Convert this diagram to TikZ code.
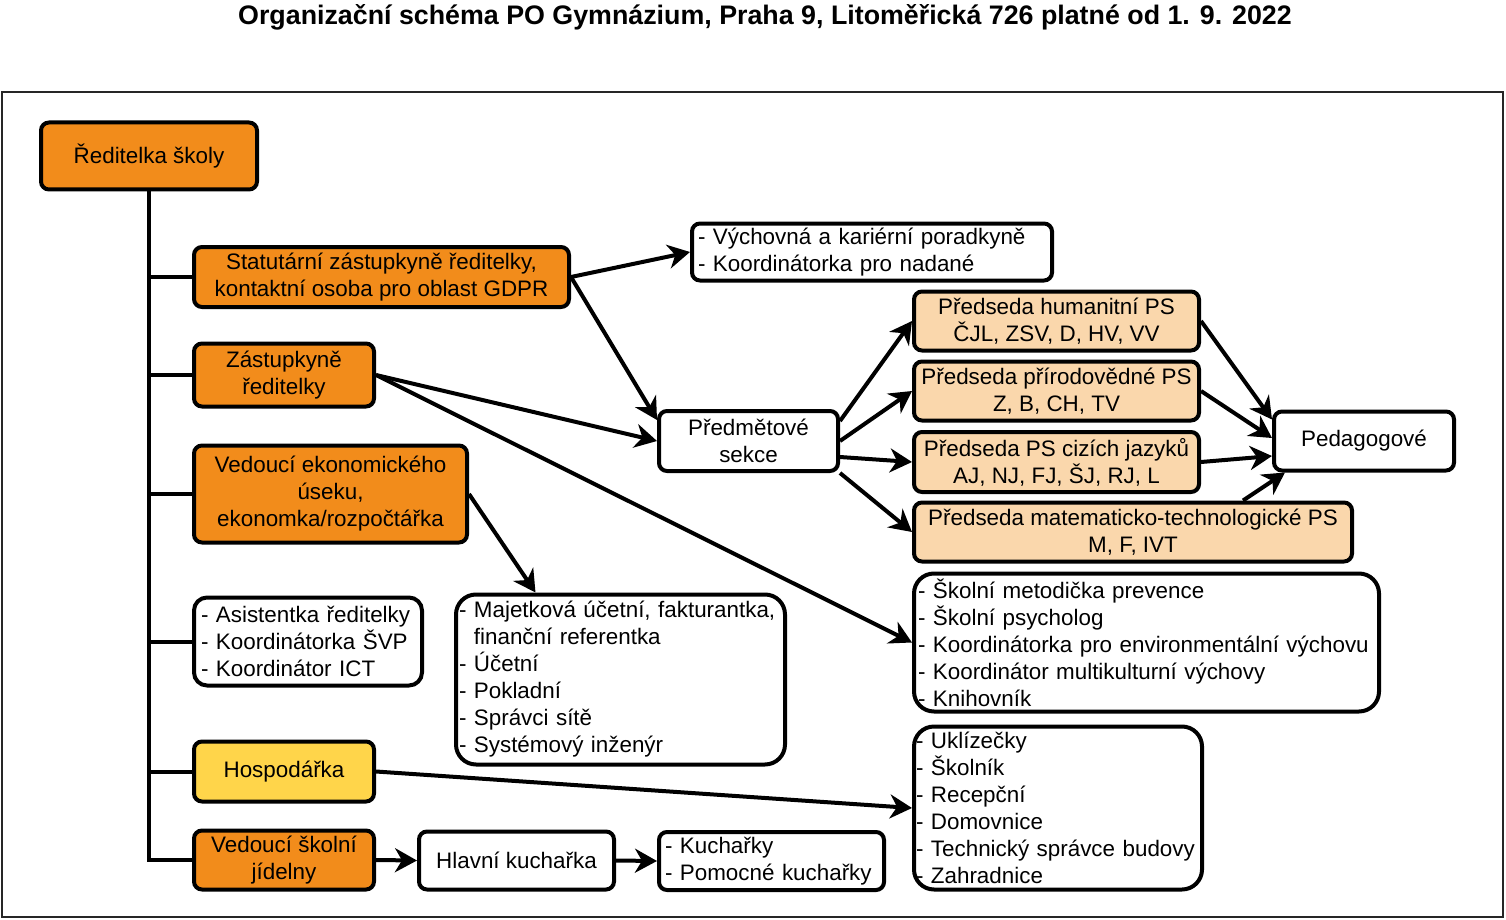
\documentclass[tikz,border=0pt]{standalone}
\usepackage{fontspec}
\setmainfont{Liberation Sans}
\usetikzlibrary{arrows.meta}
\definecolor{vedeni}{HTML}{F28C1B}
\definecolor{hospodar}{HTML}{FFD54A}
\definecolor{komise}{HTML}{FAD7AC}
\begin{document}
\begin{tikzpicture}[x=1pt, y=-1pt,
  unit/.style={shape=rectangle, draw=black, line width=4pt, rounded corners=8pt, inner sep=0pt, align=center, font=\fontsize{22.4}{27}\selectfont},
  list/.style={unit, align=left, rounded corners=20pt},
  link/.style={-{Stealth[length=22pt, width=24pt, inset=7pt]}, line width=4pt, draw=black},
  branch/.style={-, line width=4pt, draw=black}]
\useasboundingbox (0,0) rectangle (1506,920);
\draw[line width=1.5pt, draw=black!85] (2,92) rectangle (1503,917);
\node[font=\bfseries\fontsize{26.8}{30}\selectfont] (titulek) at (765,17) {Organizační schéma PO Gymnázium, Praha 9, Litoměřická 726 platné od 1. 9. 2022};
\node[unit, fill=vedeni, minimum width=216, minimum height=67] (reditelka) at (149,156) {Ředitelka školy};
\node[unit, fill=vedeni, minimum width=375, minimum height=60] (statutarni) at (381.5,277) {Statutární zástupkyně ředitelky,\\kontaktní osoba pro oblast GDPR};
\node[unit, fill=vedeni, minimum width=180, minimum height=63] (zastupkyne) at (284,375) {Zástupkyně\\ředitelky};
\node[unit, fill=vedeni, minimum width=273, minimum height=97] (ekonom) at (330.5,494) {Vedoucí ekonomického\\úseku,\\ekonomka/rozpočtářka};
\node[list, rounded corners=13pt, minimum width=228, minimum height=88, text width=214] (asistentka) at (308,641.5) {- Asistentka ředitelky\\- Koordinátorka ŠVP\\- Koordinátor ICT};
\node[unit, fill=hospodar, minimum width=180, minimum height=60] (hospodarka) at (284,771.5) {Hospodářka};
\node[unit, fill=vedeni, minimum width=180, minimum height=59] (jidelna) at (284,860) {Vedoucí školní\\jídelny};
\node[unit, minimum width=195, minimum height=58] (hlavni) at (516.5,860.5) {Hlavní kuchařka};
\node[list, rounded corners=8pt, minimum width=225, minimum height=58, text width=213] (kucharky) at (771.5,861) {- Kuchařky\\- Pomocné kuchařky};
\node[list, rounded corners=8pt, minimum width=360, minimum height=57, text width=348] (vychovna) at (872,252) {- Výchovná a kariérní poradkyně\\- Koordinátorka pro nadané};
\node[unit, minimum width=179, minimum height=60] (sekce) at (748.5,441) {Předmětové\\sekce};
\node[unit, fill=komise, minimum width=285, minimum height=59] (humanitni) at (1056.5,321) {Předseda humanitní PS\\ČJL, ZSV, D, HV, VV};
\node[unit, fill=komise, minimum width=285, minimum height=59] (prirodni) at (1056.5,391) {Předseda přírodovědné PS\\Z, B, CH, TV};
\node[unit, fill=komise, minimum width=285, minimum height=60] (jazyky) at (1056.5,462) {Předseda PS cizích jazyků\\AJ, NJ, FJ, ŠJ, RJ, L};
\node[unit, fill=komise, minimum width=438, minimum height=59] (matematika) at (1133,532) {Předseda matematicko-technologické PS\\M, F, IVT};
\node[unit, minimum width=180, minimum height=59] (pedagogove) at (1364,441) {Pedagogové};
\node[list, minimum width=465, minimum height=138, text width=457] (prevence) at (1146.5,642.5) {- Školní metodička prevence\\- Školní psycholog\\- Koordinátorka pro environmentální výchovu\\- Koordinátor multikulturní výchovy\\- Knihovník};
\node[list, minimum width=329, minimum height=170, text width=323] (majetek) at (620.5,679.5) {- Majetková účetní, fakturantka,\\\hphantom{- }finanční referentka\\- Účetní\\- Pokladní\\- Správci sítě\\- Systémový inženýr};
\node[list, minimum width=288, minimum height=163, text width=284] (provoz) at (1058,808) {- Uklízečky\\- Školník\\- Recepční\\- Domovnice\\- Technický správce budovy\\- Zahradnice};
\draw [branch] (reditelka.south) |- (jidelna.west);
\draw [branch] (reditelka.south |- statutarni.west) -- (statutarni.west);
\draw [branch] (reditelka.south |- zastupkyne.west) -- (zastupkyne.west);
\draw [branch] (reditelka.south |- ekonom.west) -- (ekonom.west);
\draw [branch] (reditelka.south |- asistentka.west) -- (asistentka.west);
\draw [branch] (reditelka.south |- hospodarka.west) -- (hospodarka.west);
\draw [link] (statutarni.east) -- (vychovna.west);
\draw [link] (statutarni.east) -- ([yshift=-11pt]sekce.north west);
\draw [link] (zastupkyne.east) -- (sekce.west);
\draw [link] (zastupkyne.east) -- (prevence.west);
\draw [link] (ekonom.east) -- ([xshift=-85pt]majetek.north);
\draw [link] (hospodarka.east) -- (provoz.west);
\draw [link] (jidelna.east) -- (hlavni.west);
\draw [link] (hlavni.east) -- (kucharky.west);
\draw [link] ([yshift=-12pt]sekce.north east) -- (humanitni.west);
\draw [link] (sekce.east) -- (prirodni.west);
\draw [link] ([yshift=-16pt]sekce.east) -- (jazyky.west);
\draw [link] (sekce.south east) -- (matematika.west);
\draw [link] (humanitni.east) -- ([yshift=-10pt]pedagogove.north west);
\draw [link] (prirodni.east) -- ([yshift=3pt]pedagogove.west);
\draw [link] (jazyky.east) -- ([yshift=-15pt]pedagogove.west);
\draw [link] ([xshift=110pt]matematika.north) -- ([xshift=13pt]pedagogove.south west);
\end{tikzpicture}
\end{document}
